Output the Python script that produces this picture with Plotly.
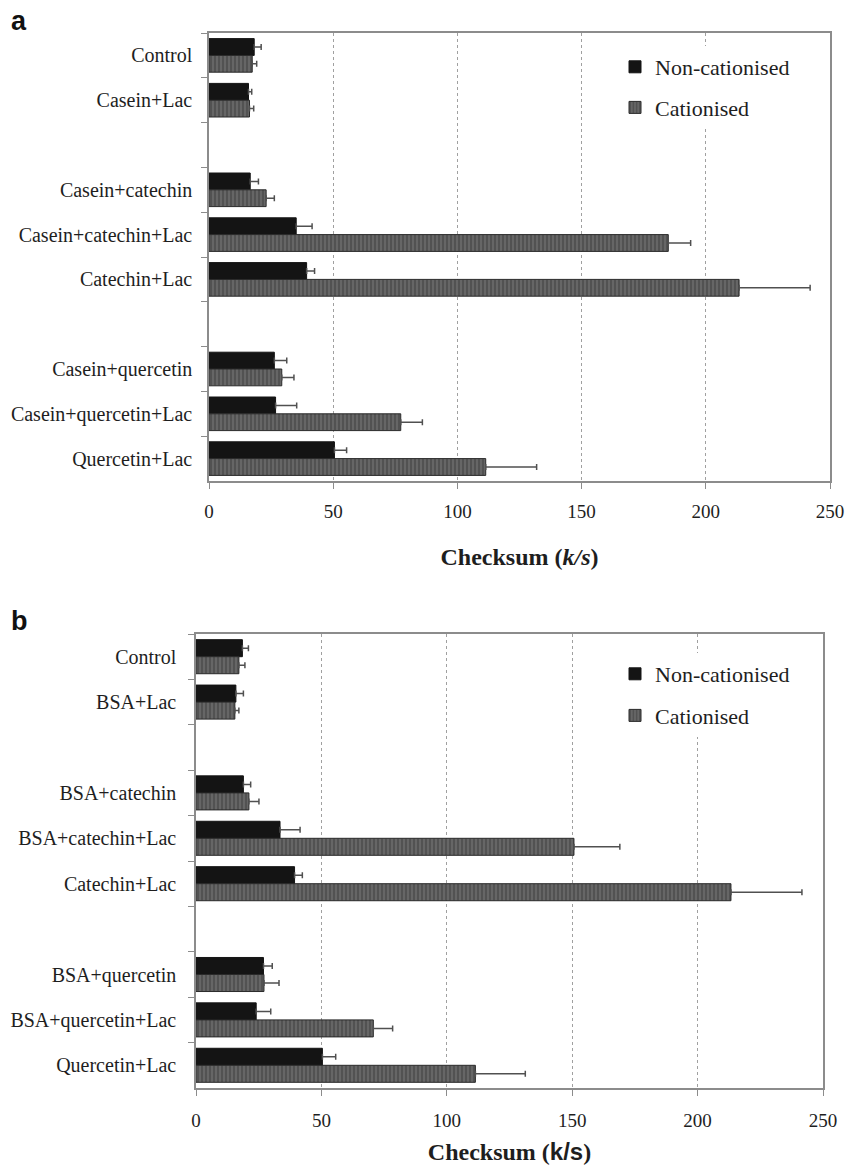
import plotly.graph_objects as go

# ---------------- data ----------------
cats_a = ["Control", "Casein+Lac", " ", "Casein+catechin", "Casein+catechin+Lac",
          "Catechin+Lac", "  ", "Casein+quercetin", "Casein+quercetin+Lac", "Quercetin+Lac"]
non_a = [18.2, 15.9, None, 16.6, 35.1, 39.3, None, 26.3, 26.8, 50.5]
non_a_err = [2.8, 1.3, None, 3.3, 6.4, 3.2, None, 5.0, 8.5, 4.9]
cat_a = [17.4, 16.3, None, 23.0, 184.9, 213.4, None, 29.3, 77.2, 111.4]
cat_a_err = [1.8, 1.7, None, 3.3, 9.0, 28.6, None, 4.9, 8.7, 20.5]

cats_b = ["Control", "BSA+Lac", " ", "BSA+catechin", "BSA+catechin+Lac",
          "Catechin+Lac", "  ", "BSA+quercetin", "BSA+quercetin+Lac", "Quercetin+Lac"]
non_b = [18.5, 15.9, None, 18.9, 33.5, 39.3, None, 26.9, 24.0, 50.4]
non_b_err = [2.4, 3.0, None, 2.9, 8.0, 3.1, None, 3.5, 5.8, 5.3]
cat_b = [17.1, 15.5, None, 21.1, 150.7, 213.3, None, 27.1, 70.7, 111.4]
cat_b_err = [2.4, 1.6, None, 4.0, 18.3, 28.3, None, 6.0, 7.7, 19.9]

series_names = ["Non-cationised", "Cationised"]
x_ticks = [0, 50, 100, 150, 200, 250]

# ---------------- style ----------------
SERIF = "Liberation Serif"
TXT = "#1e1e1e"
AX = "#8c8c8c"
W, H = 846, 1171

fig = go.Figure()

def add_panel(cats, non, non_err, cat, cat_err, xa, ya, legend):
    zeros = [0 if v is not None else None for v in non]
    fig.add_trace(go.Bar(
        y=cats, x=non, orientation="h", name=series_names[0],
        xaxis=xa, yaxis=ya, legend=legend, legendgroup="g1",
        marker=dict(color="#141414", line=dict(color="#141414", width=1)),
        error_x=dict(type="data", array=non_err, arrayminus=zeros, symmetric=False,
                     color="#505050", thickness=1.5, width=3),
    ))
    fig.add_trace(go.Bar(
        y=cats, x=cat, orientation="h", name=series_names[1],
        xaxis=xa, yaxis=ya, legend=legend, legendgroup="g2",
        marker=dict(color="#666666", line=dict(color="#2a2a2a", width=1),
                    pattern=dict(shape="|", fgcolor="#333333", size=4,
                                 solidity=0.4, fillmode="overlay")),
        error_x=dict(type="data", array=cat_err, arrayminus=zeros, symmetric=False,
                     color="#505050", thickness=1.5, width=3),
    ))

add_panel(cats_a, non_a, non_a_err, cat_a, cat_a_err, "x", "y", "legend")
add_panel(cats_b, non_b, non_b_err, cat_b, cat_b_err, "x2", "y2", "legend2")

def px_x(p):
    return p / W

def px_y(p):
    return 1 - p / H

xaxis_common = dict(
    range=[0, 250], tickvals=x_ticks, showgrid=True, gridcolor="#a0a0a0",
    griddash="dot", gridwidth=1, showline=True, linecolor=AX, linewidth=1.5,
    mirror=True, ticks="outside", ticklen=6, tickcolor=AX, zeroline=False,
    ticklabelstandoff=6, automargin=False,
    tickfont=dict(family=SERIF, size=19, color=TXT), fixedrange=True,
)
yaxis_common = dict(
    type="category", autorange="reversed", showline=True, linecolor=AX,
    linewidth=1.5, mirror=True, ticks="outside", ticklen=6, tickcolor=AX,
    tickson="boundaries", showgrid=False, automargin=False,
    tickfont=dict(family=SERIF, size=20, color=TXT), fixedrange=True,
)

fig.update_layout(
    width=W, height=H, margin=dict(l=0, r=0, t=0, b=0, autoexpand=False),
    autosize=False,
    paper_bgcolor="white", plot_bgcolor="white",
    barmode="group", bargap=0.25, bargroupgap=0,
    font=dict(family=SERIF, color=TXT),
    xaxis=dict(xaxis_common, domain=[px_x(209), px_x(830)], anchor="y",
               title=dict(text="<b>Checksum (<i>k/s</i>)</b>",
                          font=dict(family=SERIF, size=24, color=TXT), standoff=28)),
    yaxis=dict(yaxis_common, domain=[px_y(481), px_y(33)], anchor="x",
               ticklabelstandoff=11,
               categoryorder="array", categoryarray=cats_a),
    xaxis2=dict(xaxis_common, domain=[px_x(196), px_x(823)], anchor="y2",
                ticklabelstandoff=8,
                title=dict(text="<b>Checksum (<span style='font-family:Liberation Sans'>k/s</span>)</b>",
                           font=dict(family=SERIF, size=24, color=TXT), standoff=14)),
    yaxis2=dict(yaxis_common, domain=[px_y(1088), px_y(634)], anchor="x2",
                ticklabelstandoff=14,
                categoryorder="array", categoryarray=cats_b),
    legend=dict(x=px_x(615), y=px_y(46), xanchor="left", yanchor="top",
                bgcolor="white", borderwidth=0, traceorder="grouped",
                tracegroupgap=9, font=dict(family=SERIF, size=22, color=TXT)),
    legend2=dict(x=px_x(615), y=px_y(653), xanchor="left", yanchor="top",
                 bgcolor="white", borderwidth=0, traceorder="grouped",
                 tracegroupgap=10, font=dict(family=SERIF, size=22, color=TXT)),
    annotations=[
        dict(text="<b>a</b>", x=px_x(9), y=px_y(4), xref="paper", yref="paper",
             xanchor="left", yanchor="top", showarrow=False,
             font=dict(family="Liberation Sans", size=27, color="#111")),
        dict(text="<b>b</b>", x=px_x(9), y=px_y(604), xref="paper", yref="paper",
             xanchor="left", yanchor="top", showarrow=False,
             font=dict(family="Liberation Sans", size=27, color="#111")),
    ],
)

post = ("document.body.style.margin='0';document.body.style.padding='0';"
        "document.documentElement.style.overflow='hidden';")

fig.write_html("out.html", config={"responsive": False, "displayModeBar": False},
               post_script=post)
